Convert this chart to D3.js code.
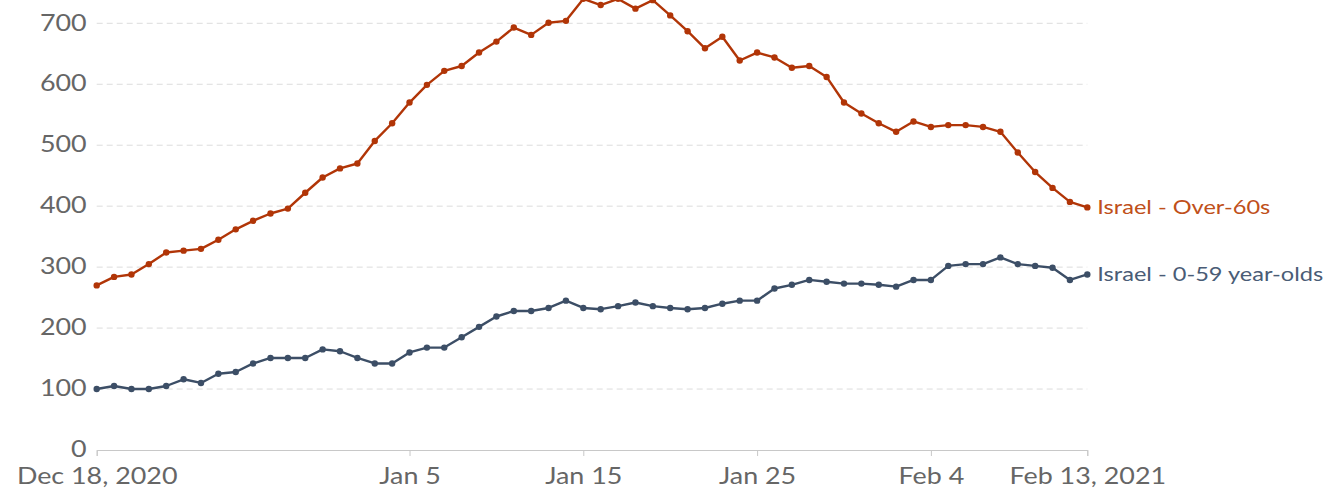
<!DOCTYPE html>
<html>
<head>
<meta charset="utf-8">
<script src="https://cdn.jsdelivr.net/npm/d3@7"></script>
<style>
  body { margin: 0; background: #fff; }
  svg { display: block; font-family: Lato, "Open Sans", sans-serif; }
</style>
</head>
<body>
<div id="chart"></div>
<script>
// daily values, Dec 18 2020 .. Feb 13 2021
var startDate = new Date(Date.UTC(2020, 11, 18)),
    endDate = new Date(Date.UTC(2021, 1, 13));

var over60 = [270, 284, 288, 305, 324, 327, 330, 345, 362, 376, 388, 396, 422, 447, 462, 470,
    507, 536, 570, 599, 622, 630, 652, 670, 693, 681, 701, 704, 740, 730, 740, 724, 738, 713,
    687, 659, 678, 639, 652, 644, 627, 630, 612, 570, 552, 536, 522, 539, 530, 533, 533, 530,
    522, 488, 456, 430, 407, 398];

var under60 = [100, 105, 100, 100, 105, 116, 110, 125, 128, 142, 151, 151, 151, 165, 162, 151,
    142, 142, 160, 168, 168, 185, 202, 219, 228, 228, 233, 245, 233, 231, 236, 242, 236, 233,
    231, 233, 240, 245, 245, 265, 271, 279, 276, 273, 273, 271, 268, 279, 279, 302, 305, 305,
    316, 305, 302, 299, 279, 288];

var seriesNames = ["Israel - Over-60s", "Israel - 0-59 year-olds"];
var seriesColors = ["#b13507", "#3c4e66"];

var yTicks = [0, 100, 200, 300, 400, 500, 600, 700];
var xTickDates = [startDate, new Date(Date.UTC(2021, 0, 5)), new Date(Date.UTC(2021, 0, 15)),
    new Date(Date.UTC(2021, 0, 25)), new Date(Date.UTC(2021, 1, 4)), endDate];
var xTickLabels = ["Dec 18, 2020", "Jan 5", "Jan 15", "Jan 25", "Feb 4", "Feb 13, 2021"];

var width = 1324, height = 489,
    margin = {top: 23.3, right: 236.7, bottom: 39, left: 96.7},
    stretch = 1.12;

var days = d3.utcDay.range(startDate, d3.utcDay.offset(endDate, 1));

var x = d3.scaleUtc().domain([startDate, endDate]).range([margin.left, width - margin.right]),
    y = d3.scaleLinear().domain([0, 700]).range([height - margin.bottom, margin.top]);

var svg = d3.select("#chart").append("svg")
    .attr("width", width)
    .attr("height", height);

// grid
svg.append("g")
    .selectAll("line")
    .data(yTicks.filter(d => d > 0))
    .enter().append("line")
    .attr("x1", margin.left)
    .attr("x2", width - margin.right)
    .attr("y1", d => y(d))
    .attr("y2", d => y(d))
    .attr("stroke", "#dcdcdc")
    .attr("stroke-width", 1)
    .attr("stroke-dasharray", "6,4");

// y axis labels
var yAxis = svg.append("g")
    .attr("transform", `translate(${margin.left},0)`)
    .call(d3.axisLeft(y).tickValues(yTicks).tickSize(0).tickPadding(10));
yAxis.select(".domain").remove();
yAxis.selectAll("text")
    .attr("x", -10 / stretch)
    .attr("dy", "0.28em")
    .attr("transform", `scale(${stretch},1)`)
    .attr("fill", "#666")
    .style("font-size", "24px")
    .style("font-family", "Lato");

// x axis
var xAxis = svg.append("g")
    .attr("transform", `translate(0,${y(0)})`)
    .call(d3.axisBottom(x).tickValues(xTickDates).tickSizeOuter(0).tickSize(6).tickPadding(11)
        .tickFormat((d, i) => xTickLabels[i]));
xAxis.select(".domain").attr("stroke", "#c8c8c8");
xAxis.selectAll(".tick line").attr("stroke", "#c8c8c8");
xAxis.selectAll("text")
    .attr("transform", `scale(${stretch},1)`)
    .attr("fill", "#666")
    .style("font-size", "24px")
    .style("font-family", "Lato");

var line = d3.line()
    .x((d, i) => x(days[i]))
    .y(d => y(d));

[over60, under60].forEach(function(values, s) {
    var g = svg.append("g");
    g.append("path")
        .datum(values)
        .attr("fill", "none")
        .attr("stroke", seriesColors[s])
        .attr("stroke-width", 2.4)
        .attr("stroke-linejoin", "round")
        .attr("d", line);
    g.selectAll("circle")
        .data(values)
        .enter().append("circle")
        .attr("cx", (d, i) => x(days[i]))
        .attr("cy", d => y(d))
        .attr("r", 3.2)
        .attr("fill", seriesColors[s]);
    var last = values[values.length - 1];
    g.append("text")
        .attr("transform", `translate(${x(endDate) + 10},${y(last)}) scale(1.18,1)`)
        .attr("dy", "0.35em")
        .attr("fill", s === 0 ? "#c0501a" : "#4a5c76")
        .style("font-size", "20px")
        .text(seriesNames[s]);
});
</script>
</body>
</html>
